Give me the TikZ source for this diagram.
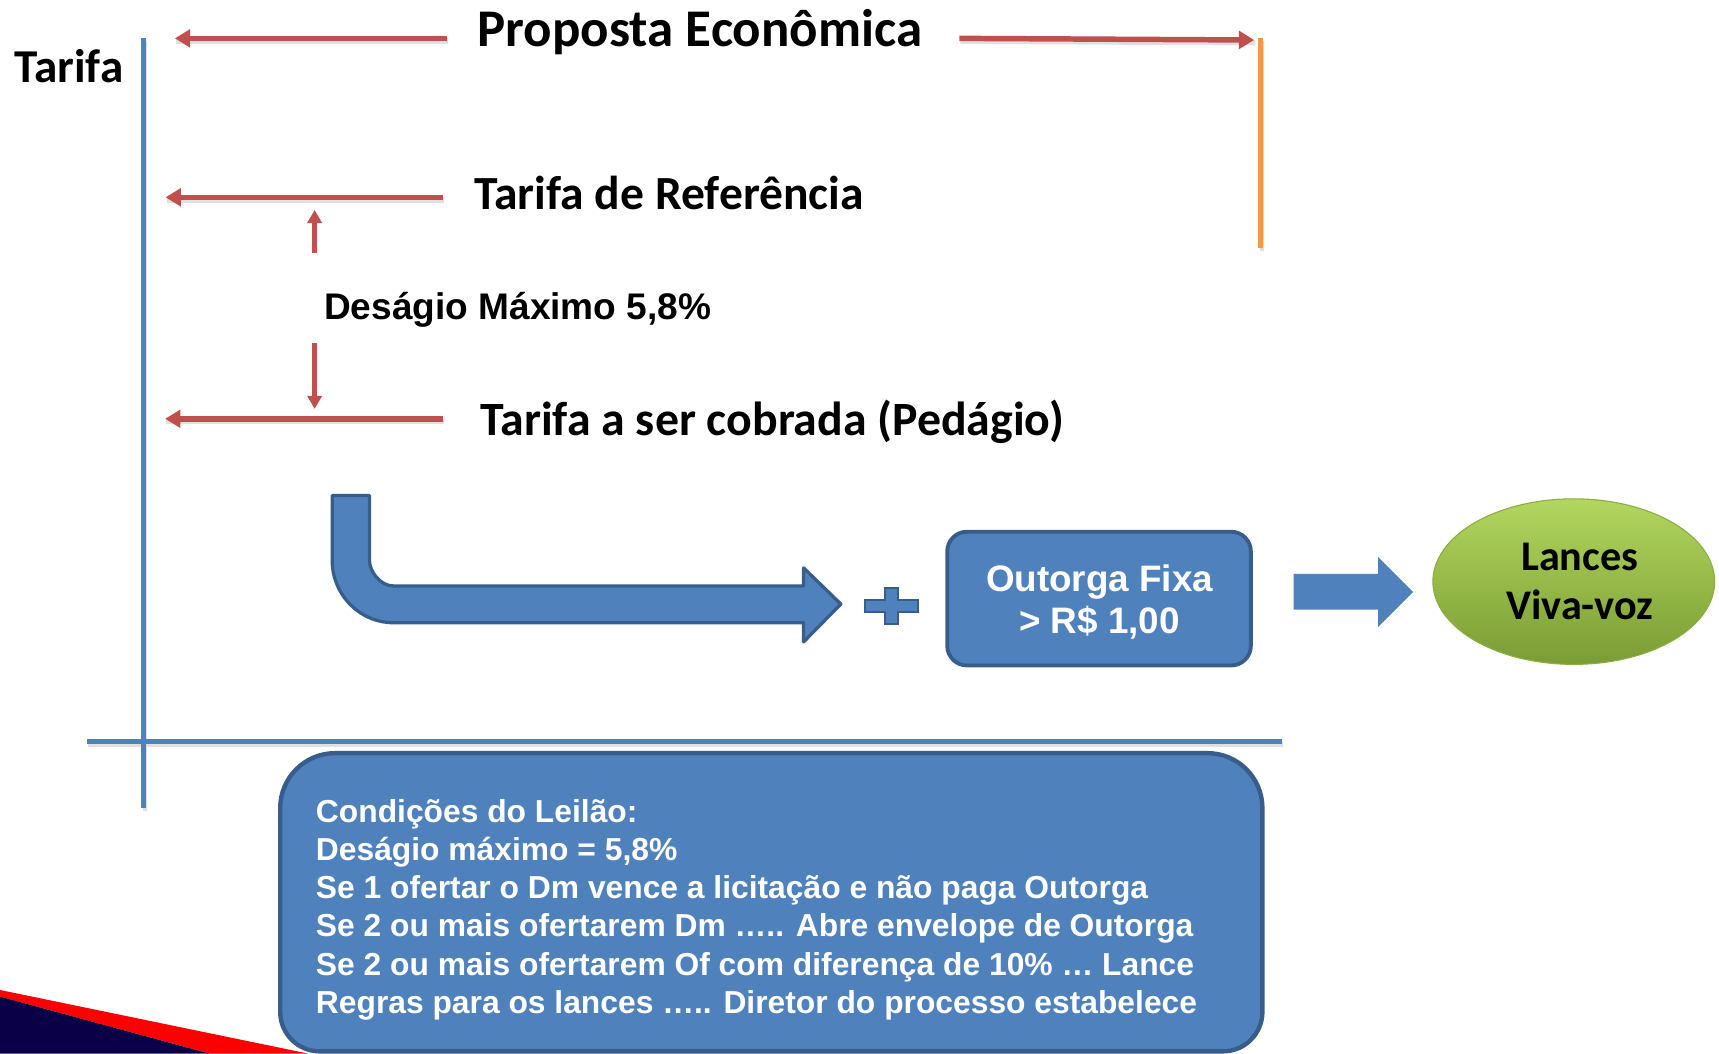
\documentclass[tikz,border=0pt]{standalone}
\usepackage{fontspec}
\setmainfont{Carlito}
\newfontfamily\arialf{Liberation Sans}
\usetikzlibrary{arrows.meta,shapes.geometric}
\definecolor{ared}{HTML}{C0504D}
\definecolor{ablue}{HTML}{4F81BD}
\definecolor{adark}{HTML}{385D8A}
\definecolor{aorange}{HTML}{F79646}
\definecolor{anavy}{HTML}{0A0047}
\definecolor{gtop}{HTML}{B2D65E}
\definecolor{gbot}{HTML}{7A9C34}
\definecolor{gedge}{HTML}{8AAE42}
\tikzset{
  redarrow/.style={draw=ared, line width=5pt, -{Triangle[length=14pt,width=16pt]}},
  smallarrow/.style={draw=ared, line width=4pt, -{Triangle[length=12pt,width=13pt]}},
  shadowline/.style={draw=black!12, line width=5pt, transform canvas={xshift=1pt,yshift=-2.5pt}},
  axisline/.style={draw=ablue, line width=4.3pt},
  lbl/.style={inner sep=0pt, anchor=base west, font=\bfseries},
  bluebox/.style={fill=ablue, draw=adark, line width=3.5pt},
}
\begin{document}
\begin{tikzpicture}[x=1pt,y=-1pt]
\useasboundingbox (0,0) rectangle (1568,961);
% bottom-left decoration
\fill[red] (0,903) -- (281,961) -- (191,961) -- (0,909) -- cycle;
\fill[anavy] (0,909) -- (191,961) -- (0,961) -- cycle;

% axes
\coordinate (vtop) at (131,35);
\coordinate (vbot) at (131,737);
\coordinate (hleft) at (79,676.5);
\coordinate (hright) at (1169,676.5);
\draw[shadowline, line width=4pt] (vtop) -- (vbot);
\draw[shadowline, line width=4pt] (hleft) -- (hright);
\draw[axisline] (vtop) -- (vbot);
\draw[axisline] (hleft) -- (hright);

% orange line
\coordinate (otop) at (1150,35);
\coordinate (obot) at (1150,226);
\draw[shadowline, line width=4pt] (otop) -- (obot);
\draw[draw=aorange, line width=4.3pt] (otop) -- (obot);

% labels
\node[lbl, font=\bfseries\fontsize{43}{52}\selectfont] (tarifa) at (13,75.4) {Tarifa};
\node[lbl, font=\bfseries\fontsize{48.3}{58}\selectfont] (proposta) at (435.5,42.6) {Proposta Econômica};
\node[lbl, font=\bfseries\fontsize{43.4}{52}\selectfont] (tref) at (432.5,191.5) {Tarifa de Referência};
\node[lbl, font=\arialf\bfseries\fontsize{33.8}{40}\selectfont] (desagio) at (295.5,291) {Deságio Máximo 5,8\%};
\node[lbl, font=\bfseries\fontsize{43.6}{52}\selectfont] (tcob) at (438,396.8) {Tarifa a ser cobrada (Pedágio)};

% red arrows
\coordinate (a1s) at (408,35); \coordinate (a1e) at (159.5,35);
\coordinate (a2s) at (875,35); \coordinate (a2e) at (1144,36.5);
\coordinate (a3s) at (404,180); \coordinate (a3e) at (151,180);
\coordinate (a4s) at (404,382); \coordinate (a4e) at (150.6,382);
\coordinate (upS) at (287,231); \coordinate (upE) at (287,191.5);
\coordinate (dnS) at (287,313); \coordinate (dnE) at (287,373);
\foreach \s/\e in {a1s/a1e,a2s/a2e,a3s/a3e,a4s/a4e}
  \draw[shadowline] (\s) -- (\e);
\draw[redarrow] (a1s) -- (a1e);
\draw[redarrow] (a2s) -- (a2e);
\draw[redarrow] (a3s) -- (a3e);
\draw[redarrow] (a4s) -- (a4e);
\draw[smallarrow] (upS) -- (upE);
\draw[smallarrow] (dnS) -- (dnE);

% bent arrow
\draw[bluebox, line width=3pt, line join=round]
  (303,452) -- (303,511)
  .. controls (303,542.5) and (328,568) .. (359,568)
  -- (733,568) -- (733,585.5) -- (767,551) -- (733,518) -- (733,534.5)
  -- (359,534.5)
  .. controls (347,534.5) and (337,521.5) .. (337,511)
  -- (337,452) -- cycle;

% plus sign
\draw[bluebox, line width=2pt]
  (807,536) -- (819,536) -- (819,547) -- (837,547) -- (837,558) -- (819,558)
  -- (819,569) -- (807,569) -- (807,558) -- (789,558) -- (789,547) -- (807,547) -- cycle;

% Outorga box
\draw[bluebox, rounded corners=18pt] (864,485) rectangle (1141,607);
\node[inner sep=0pt, anchor=base, text=white, font=\arialf\bfseries\fontsize{33.6}{38}\selectfont] (outorga1) at (1003,539.5) {Outorga Fixa};
\node[inner sep=0pt, anchor=base, text=white, font=\arialf\bfseries\fontsize{33.6}{38}\selectfont] (outorga2) at (1003,578) {> R\$ 1,00};

% block arrow right
\fill[ablue] (1180,523.5) -- (1257,523.5) -- (1257,508) -- (1289,540) -- (1257,572) -- (1257,556) -- (1180,556) -- cycle;

% ellipse
\node[ellipse, minimum width=257pt, minimum height=151pt, inner sep=0pt,
      top color=gtop, bottom color=gbot, draw=gedge, line width=1pt] (lances) at (1435.5,530.5) {};
\node[inner sep=0pt, anchor=base, font=\bfseries\fontsize{38.5}{46}\selectfont] (l1) at (1441,520) {Lances};
\node[inner sep=0pt, anchor=base, font=\bfseries\fontsize{38.5}{46}\selectfont] (l2) at (1441,565.5) {Viva-voz};

% conditions box
\draw[bluebox, line width=4pt]
  (255.6,737) .. controls (255.6,709.4) and (278,687) .. (305.6,687)
  -- (1101.5,687) .. controls (1129.1,687) and (1151.5,709.4) .. (1151.5,737)
  -- (1151.5,923) .. controls (1151.5,942.9) and (1135.4,959) .. (1115.5,959)
  -- (291.6,959) .. controls (271.7,959) and (255.6,942.9) .. (255.6,923) -- cycle;
\node[inner sep=0pt, anchor=base west, align=left, text=white,
      font=\arialf\bfseries\fontsize{29}{34.8}\selectfont] (cond) at (288,924.2)
  {Condições do Leilão:\\
   Deságio máximo = 5,8\%\\
   Se 1 ofertar o Dm vence a licitação e não paga Outorga\\
   Se 2 ou mais ofertarem Dm ….. Abre envelope de Outorga\\
   Se 2 ou mais ofertarem Of com diferença de 10\% … Lance\\
   Regras para os lances ….. Diretor do processo estabelece};
\end{tikzpicture}
\end{document}
